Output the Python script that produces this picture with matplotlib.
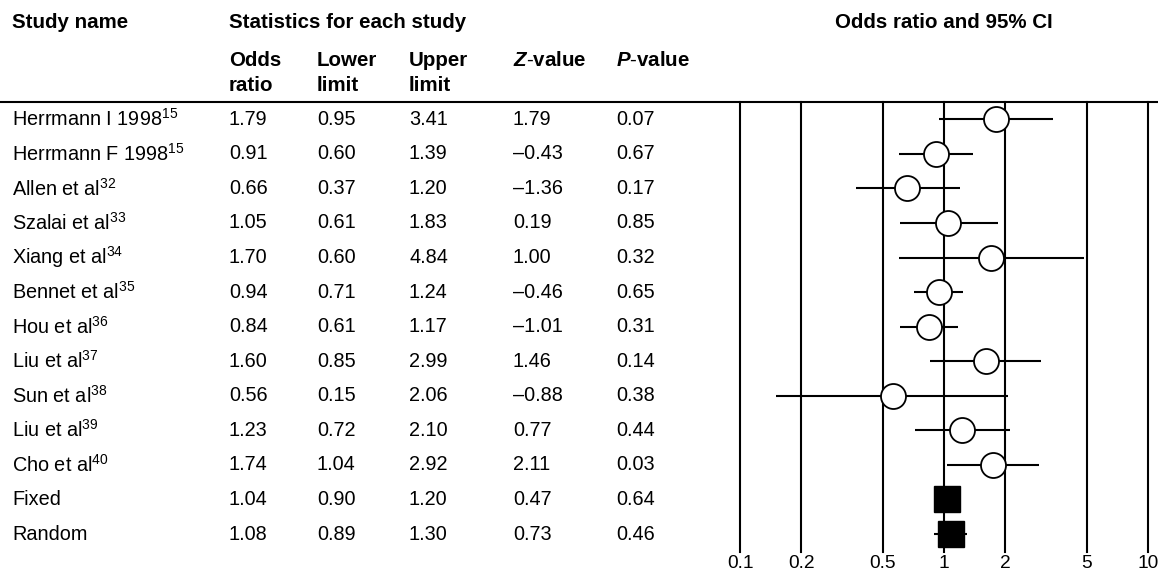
import numpy as np
import matplotlib
matplotlib.use("Agg")
import matplotlib.pyplot as plt
from matplotlib.lines import Line2D

plt.rcParams['font.family'] = ['Liberation Sans', 'DejaVu Sans']
plt.rcParams['mathtext.fontset'] = 'custom'
plt.rcParams['mathtext.rm'] = 'Liberation Sans'
plt.rcParams['mathtext.it'] = 'Liberation Sans:italic'
plt.rcParams['mathtext.bf'] = 'Liberation Sans:bold'
plt.rcParams['mathtext.bfit'] = 'Liberation Sans:italic:bold'

# Studien und Kennzahlen
studies = ["Herrmann I 1998$^{\\mathrm{15}}$", "Herrmann F 1998$^{\\mathrm{15}}$",
           "Allen et al$^{\\mathrm{32}}$", "Szalai et al$^{\\mathrm{33}}$",
           "Xiang et al$^{\\mathrm{34}}$", "Bennet et al$^{\\mathrm{35}}$",
           "Hou et al$^{\\mathrm{36}}$", "Liu et al$^{\\mathrm{37}}$",
           "Sun et al$^{\\mathrm{38}}$", "Liu et al$^{\\mathrm{39}}$",
           "Cho et al$^{\\mathrm{40}}$", "Fixed", "Random"]
odds = [1.79, 0.91, 0.66, 1.05, 1.70, 0.94, 0.84, 1.60, 0.56, 1.23, 1.74, 1.04, 1.08]
lower = [0.95, 0.60, 0.37, 0.61, 0.60, 0.71, 0.61, 0.85, 0.15, 0.72, 1.04, 0.90, 0.89]
upper = [3.41, 1.39, 1.20, 1.83, 4.84, 1.24, 1.17, 2.99, 2.06, 2.10, 2.92, 1.20, 1.30]
zval = [1.79, -0.43, -1.36, 0.19, 1.00, -0.46, -1.01, 1.46, -0.88, 0.77, 2.11, 0.47, 0.73]
pval = [0.07, 0.67, 0.17, 0.85, 0.32, 0.65, 0.31, 0.14, 0.38, 0.44, 0.03, 0.64, 0.46]
pooled = ["Fixed", "Random"]
ticks = [0.1, 0.2, 0.5, 1, 2, 5, 10]
tick_labels = ["0.1", "0.2", "0.5", "1", "2", "5", "10"]

W, H = 1158, 576
fig = plt.figure(figsize=(W / 100, H / 100), dpi=100)

top_px, bot_px = 102, 552
rows = np.arange(len(studies))
ylim = (12.52, -0.5)
ax_bottom = 1 - bot_px / H
ax_height = (bot_px - top_px) / H

# Tabelle links
tab = fig.add_axes([0, ax_bottom, 1, ax_height])
tab.set_xlim(0, W)
tab.set_ylim(*ylim)
tab.axis('off')

fs = 14.3
col_x = [12, 229, 317, 409, 513, 616]


def fmt(v):
    s = "%.2f" % abs(v)
    return ("\u2013" + s) if v < 0 else s


for i in rows:
    tab.text(col_x[0], i, studies[i], fontsize=fs, va='center')
    tab.text(col_x[1], i, "%.2f" % odds[i], fontsize=fs, va='center')
    tab.text(col_x[2], i, "%.2f" % lower[i], fontsize=fs, va='center')
    tab.text(col_x[3], i, "%.2f" % upper[i], fontsize=fs, va='center')
    tab.text(col_x[4], i, fmt(zval[i]), fontsize=fs, va='center')
    tab.text(col_x[5], i, "%.2f" % pval[i], fontsize=fs, va='center')

# Kopfzeilen
y_head = -2.8
tab.text(col_x[0], y_head, "Study name", fontsize=fs + 0.5, fontweight='bold', va='center')
tab.text(col_x[1], y_head, "Statistics for each study", fontsize=fs + 0.5, fontweight='bold', va='center')
tab.text(944, y_head, "Odds ratio and 95% CI", fontsize=fs + 0.5, fontweight='bold',
         va='center', ha='center')
for x, (l1, l2) in zip(col_x[1:4], [("Odds", "ratio"), ("Lower", "limit"), ("Upper", "limit")]):
    tab.text(x, -1.69, l1, fontsize=fs + 0.5, fontweight='bold', va='center')
    tab.text(x, -0.97, l2, fontsize=fs + 0.5, fontweight='bold', va='center')
tab.text(col_x[4], -1.69, "$\\mathbfit{Z}$$\\mathbf{\\text{-}value}$", fontsize=fs + 0.5, va='center')
tab.text(col_x[5], -1.69, "$\\mathbfit{P}$$\\mathbf{\\text{-}value}$", fontsize=fs + 0.5, va='center')

# Trennlinie unter dem Kopf
fig.add_artist(Line2D([0, 1], [1 - top_px / H] * 2, transform=fig.transFigure,
                      color='black', lw=1.5))

# Forest-Plot rechts
ax = fig.add_axes([740 / W, ax_bottom, (1148 - 740) / W, ax_height])
ax.set_xscale('log')
ax.set_xlim(0.1, 10)
ax.set_ylim(*ylim)
for s in ax.spines.values():
    s.set_visible(False)
for t in ticks:
    ax.axvline(t, color='black', lw=1.5, clip_on=False, zorder=1)
ax.set_xticks(ticks)
ax.set_xticklabels(tick_labels, fontsize=13.8)
ax.xaxis.set_minor_locator(matplotlib.ticker.NullLocator())
ax.tick_params(axis='x', length=0, pad=2)
ax.set_yticks([])

ax.hlines(rows, lower, upper, color='black', lw=1.5, zorder=2)
for i in rows:
    if studies[i] in pooled:
        ax.plot(odds[i], i, marker='s', ms=19, color='black', zorder=3)
    else:
        ax.plot(odds[i], i, marker='o', ms=18, mfc='white', mec='black', mew=1.3, zorder=3)

fig.savefig("out.png", dpi=100)
